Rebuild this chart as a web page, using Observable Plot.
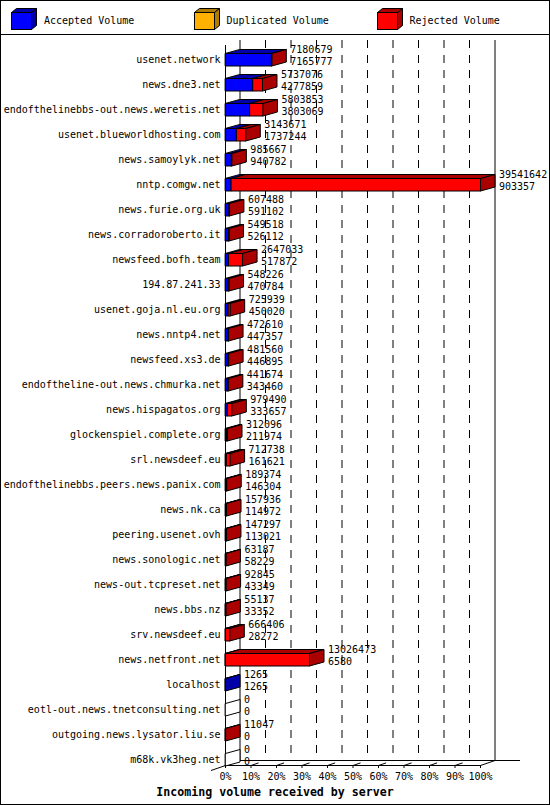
<!DOCTYPE html>
<html>
<head>
<meta charset="utf-8">
<script src="https://cdn.jsdelivr.net/npm/d3@7"></script>
<script src="https://cdn.jsdelivr.net/npm/@observablehq/plot@0.6"></script>
<style>
  body { margin: 0; background: #fff; }
  #box { position: relative; width: 548px; height: 803px; border: 1px solid #000; font-family: "DejaVu Sans Mono", monospace; font-size: 10px; color: #000; overflow: hidden; }
  #legend { position: absolute; left: 0; top: 0; width: 548px; height: 33px; border-bottom: 1px solid #000; }
  .item { position: absolute; top: 0; height: 33px; }
  .item svg { position: absolute; left: 0; top: 7px; }
  .item span { position: absolute; left: 33px; top: 14px; line-height: 12px; white-space: nowrap; }
  #chart { position: absolute; left: 0; top: 34px; }
  #title { position: absolute; left: 0; top: 783px; width: 548px; height: 16px; line-height: 16px; text-align: center; font-weight: bold; font-size: 11.6px; }
</style>
</head>
<body>
<div id="box">
  <div id="legend"></div>
  <div id="chart"></div>
  <div id="title">Incoming volume received by server</div>
</div>
<script>
// servers, in the order of the chart
let servers = [
  "usenet.network", "news.dne3.net", "endofthelinebbs-out.news.weretis.net",
  "usenet.blueworldhosting.com", "news.samoylyk.net", "nntp.comgw.net",
  "news.furie.org.uk", "news.corradoroberto.it", "newsfeed.bofh.team",
  "194.87.241.33", "usenet.goja.nl.eu.org", "news.nntp4.net", "newsfeed.xs3.de",
  "endoftheline-out.news.chmurka.net", "news.hispagatos.org",
  "glockenspiel.complete.org", "srl.newsdeef.eu",
  "endofthelinebbs.peers.news.panix.com", "news.nk.ca", "peering.usenet.ovh",
  "news.sonologic.net", "news-out.tcpreset.net", "news.bbs.nz", "srv.newsdeef.eu",
  "news.netfront.net", "localhost", "eotl-out.news.tnetconsulting.net",
  "outgoing.news.lysator.liu.se", "m68k.vk3heg.net"
];
// total volume (upper number)
let totals = [
  7180679, 5737076, 5803853, 3143671, 985667, 39541642, 607488, 549518, 2647033,
  548226, 725939, 472610, 481560, 441674, 979490, 312096, 712738, 189374, 157936,
  147297, 63187, 92845, 55137, 666406, 13026473, 1265, 0, 11047, 0
];
// accepted volume (lower number)
let accepted = [
  7165777, 4277859, 3803069, 1737244, 940782, 903357, 591102, 526112, 517872,
  470784, 450020, 447357, 446895, 343460, 333657, 211974, 161621, 146304, 114972,
  113021, 58229, 43349, 33352, 28272, 6580, 1265, 0, 0, 0
];
let ticks = [0, 10, 20, 30, 40, 50, 60, 70, 80, 90, 100];

let legendItems = [
  { label: "Accepted Volume", front: "#0000ff", dark: "#0000aa" },
  { label: "Duplicated Volume", front: "#ffb000", dark: "#b07c00" },
  { label: "Rejected Volume", front: "#ff0000", dark: "#aa0000" }
];

// legend, little cubes
let legendX = [10, 192.5, 375.5];
legendItems.forEach((it, k) => {
  let div = document.createElement("div");
  div.className = "item";
  div.style.left = legendX[k] + "px";
  div.innerHTML =
    `<svg width="27" height="23">` +
    `<polygon points="0.5,4.5 20.5,4.5 25.5,0.5 5.5,0.5" fill="${it.dark}" stroke="#000"/>` +
    `<polygon points="20.5,4.5 25.5,0.5 25.5,17.5 20.5,21.5" fill="${it.dark}" stroke="#000"/>` +
    `<rect x="0.5" y="4.5" width="20" height="17" fill="${it.front}" stroke="#000"/>` +
    `</svg><span>${it.label}</span>`;
  document.getElementById("legend").appendChild(div);
});

const maxTotal = d3.max(totals);
const pxPerPct = 2.55;          // 255px for 100%
const depthX = 14.5 / pxPerPct; // 3d depth in percent
const barDepthY = 4 / 25;       // 3d depth in rows
const floorDepthY = 5 / 25;
const floorY = 28.74;
const rowTop = 0.26, rowBottom = 0.76;

let rows = servers.map((name, i) => ({
  i, name,
  total: totals[i],
  acc: accepted[i],
  t: totals[i] / maxTotal * 100,
  a: accepted[i] / maxTotal * 100
}));

// faces of the 3d bars as polygons
let backFaces = [], frontFaces = [];
function poly(list, id, fill, pts) {
  pts.forEach(p => list.push({ id, fill, x: p[0], y: p[1] }));
}
rows.forEach(r => {
  let y0 = r.i + rowTop, y1 = r.i + rowBottom;
  let segs = [
    { x0: 0, x1: r.a, front: "#0000ff", dark: "#0000aa" },
    { x0: r.a, x1: r.t, front: "#ff0000", dark: "#aa0000" }
  ].filter(s => s.x1 > s.x0);
  segs.forEach((s, k) => {
    poly(backFaces, `top${r.i}-${k}`, s.dark,
      [[s.x0, y0], [s.x1, y0], [s.x1 + depthX, y0 - barDepthY], [s.x0 + depthX, y0 - barDepthY]]);
    poly(frontFaces, `front${r.i}-${k}`, s.front,
      [[s.x0, y0], [s.x1, y0], [s.x1, y1], [s.x0, y1]]);
  });
  let side = segs.length ? segs[segs.length - 1].dark : "#ffffff";
  poly(backFaces, `side${r.i}`, side,
    [[r.t, y0], [r.t + depthX, y0 - barDepthY], [r.t + depthX, y1 - barDepthY], [r.t, y1]]);
});

let grid = ticks.slice(1, -1);

let chart = Plot.plot({
  width: 548,
  height: 748,
  marginLeft: 224,
  marginRight: 69,
  marginTop: 11.5,
  marginBottom: 18,
  x: { domain: [0, 100], label: null },
  y: { domain: [0, floorY], reverse: true, label: null },
  color: { type: "identity" },
  style: {
    fontFamily: "DejaVu Sans Mono",
    fontSize: "10px",
    color: "#000",
    background: "transparent"
  },
  marks: [
    // back wall and grid
    Plot.ruleX(grid, { y1: -0.06, y2: floorY, dx: 14.5, dy: -5, stroke: "#000", strokeDasharray: "8,7" }),
    Plot.ruleX([0, 100], { y1: -0.06, y2: floorY, dx: 14.5, dy: -5, stroke: "#000" }),
    Plot.ruleY([floorY], { x1: 0, x2: 110, dx: 14.5, dy: -5, stroke: "#000" }),
    Plot.link(grid, { x1: d => d, y1: floorY, x2: d => d + depthX, y2: floorY - floorDepthY, stroke: "#000", strokeDasharray: "8,7" }),
    // front floor
    Plot.ruleY([floorY], { x1: 0, x2: 100, stroke: "#000" }),
    Plot.link([0], { x1: d => d - depthX, y1: floorY + floorDepthY, x2: d => d, y2: floorY, stroke: "#000" }),
    Plot.link([100], { x1: d => d, y1: floorY, x2: d => d + depthX, y2: floorY - floorDepthY, stroke: "#000" }),
    Plot.ruleX([0], { y1: -0.06, y2: floorY, stroke: "#000" }),
    // bars
    Plot.line(backFaces, { x: "x", y: "y", z: "id", fill: "fill", stroke: "#000", strokeWidth: 1, curve: "linear-closed" }),
    Plot.line(frontFaces, { x: "x", y: "y", z: "id", fill: "fill", stroke: "#000", strokeWidth: 1, curve: "linear-closed" }),
    // values
    Plot.text(rows, { x: d => d.t + depthX, y: d => d.i + 0.12, text: d => String(d.total), textAnchor: "start", dx: 4, fill: "#000" }),
    Plot.text(rows, { x: d => d.t + depthX, y: d => d.i + 0.58, text: d => String(d.acc), textAnchor: "start", dx: 4, fill: "#000" }),
    // axes
    Plot.axisY({ ticks: rows.map(r => r.i + 0.5), tickFormat: v => servers[Math.round(v - 0.5)], tickSize: 0, tickPadding: 5, label: null }),
    Plot.axisX({ ticks: ticks, tickFormat: d => d + "%", tickSize: 3, tickPadding: 4, label: null })
  ]
});

document.getElementById("chart").appendChild(chart);
</script>
</body>
</html>
